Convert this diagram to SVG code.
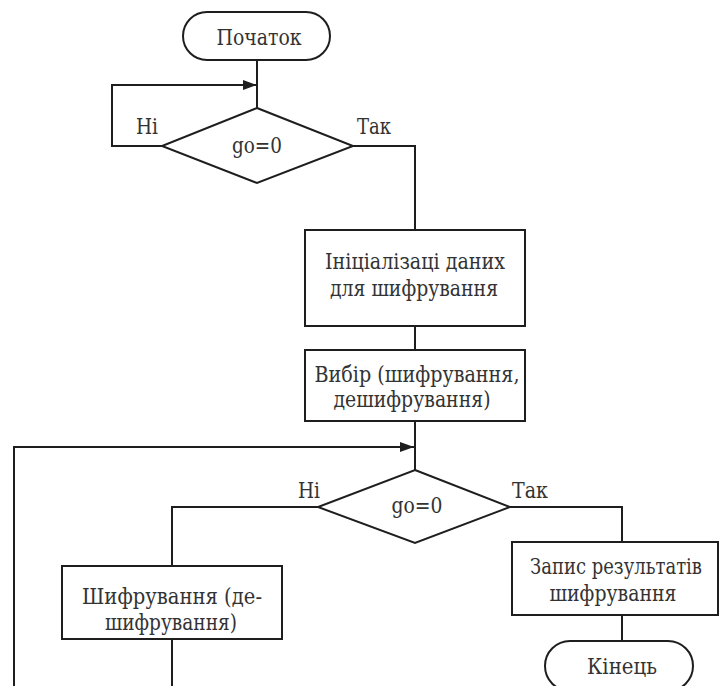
<svg xmlns="http://www.w3.org/2000/svg" width="720" height="686" viewBox="0 0 720 686">
  <style>
    .shape { fill: #ffffff; stroke: #1e1e1e; stroke-width: 2; }
    .line { fill: none; stroke: #1e1e1e; stroke-width: 2; }
    .t { font-family: "DejaVu Serif", serif; font-size: 22px; fill: #333333; text-anchor: middle; }
    .lbl { text-anchor: start; }
  </style>
  <defs>
    <marker id="arrow" viewBox="0 0 14 10" refX="14" refY="5" markerWidth="14" markerHeight="10" markerUnits="userSpaceOnUse" orient="auto">
      <path d="M0,0 L14,5 L0,10 Z" fill="#1e1e1e"/>
    </marker>
  </defs>
  <rect width="720" height="686" fill="#ffffff"/>

  <!-- flow lines and branch labels -->
  <g id="connectors">
    <path class="line" d="M257,60 V108"/>
    <path class="line" d="M162,146 H112 V85 H257" marker-end="url(#arrow)"/>
    <path class="line" d="M353,146 H415 V230"/>
    <path class="line" d="M415,326 V350"/>
    <path class="line" d="M415,421 V470"/>
    <path class="line" d="M172,686 V639"/>
    <path class="line" d="M14,686 V447 H414" marker-end="url(#arrow)"/>
    <path class="line" d="M318,507 H172 V566"/>
    <path class="line" d="M510,507 H622 V542"/>
    <path class="line" d="M622,615 V641"/>
    <text class="t lbl" x="136" y="134" textLength="22" lengthAdjust="spacingAndGlyphs">Ні</text>
    <text class="t lbl" x="357" y="134" textLength="34" lengthAdjust="spacingAndGlyphs">Так</text>
    <text class="t lbl" x="298" y="498" textLength="22" lengthAdjust="spacingAndGlyphs">Ні</text>
    <text class="t lbl" x="512" y="498" textLength="36" lengthAdjust="spacingAndGlyphs">Так</text>
  </g>

  <g id="start">
    <rect class="shape" x="183" y="12" width="147" height="48" rx="24"/>
    <text class="t" x="259" y="45" textLength="85" lengthAdjust="spacingAndGlyphs">Початок</text>
  </g>

  <g id="check1">
    <polygon class="shape" points="257,108 353,146 257,183 162,146"/>
    <text class="t" x="257" y="153" textLength="50" lengthAdjust="spacingAndGlyphs">go=0</text>
  </g>

  <g id="init">
    <rect class="shape" x="305" y="230" width="220" height="96"/>
    <text class="t" x="415" y="269" textLength="180" lengthAdjust="spacingAndGlyphs">Ініціалізаці даних</text>
    <text class="t" x="414" y="296" textLength="168" lengthAdjust="spacingAndGlyphs">для шифрування</text>
  </g>

  <g id="select">
    <rect class="shape" x="305" y="350" width="220" height="71"/>
    <text class="t" x="417" y="382" textLength="205" lengthAdjust="spacingAndGlyphs">Вибір (шифрування,</text>
    <text class="t" x="412" y="407" textLength="157" lengthAdjust="spacingAndGlyphs">дешифрування)</text>
  </g>

  <g id="check2">
    <polygon class="shape" points="415,470 510,507 415,543 318,507"/>
    <text class="t" x="417" y="513" textLength="51" lengthAdjust="spacingAndGlyphs">go=0</text>
  </g>

  <g id="encrypt">
    <rect class="shape" x="62" y="566" width="220" height="73"/>
    <text class="t" x="172" y="604" textLength="180" lengthAdjust="spacingAndGlyphs">Шифрування (де-</text>
    <text class="t" x="171" y="630" textLength="132" lengthAdjust="spacingAndGlyphs">шифрування)</text>
  </g>

  <g id="save">
    <rect class="shape" x="512" y="542" width="206" height="73"/>
    <text class="t" x="616" y="574" font-size="21" textLength="172" lengthAdjust="spacingAndGlyphs">Запис результатів</text>
    <text class="t" x="613" y="601" textLength="127" lengthAdjust="spacingAndGlyphs">шифрування</text>
  </g>

  <g id="end">
    <rect class="shape" x="545" y="641" width="148" height="50" rx="25"/>
    <text class="t" x="622" y="674" textLength="70" lengthAdjust="spacingAndGlyphs">Кінець</text>
  </g>
</svg>
